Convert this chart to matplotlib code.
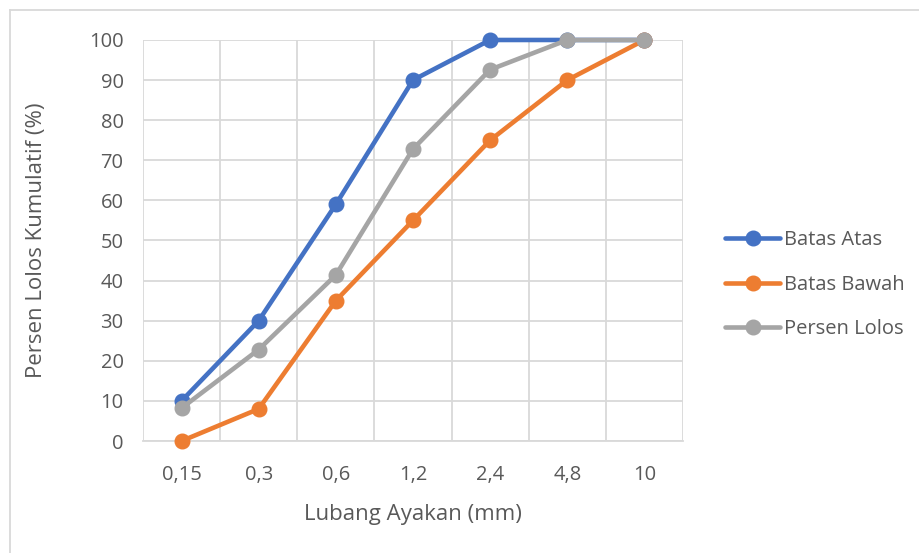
import matplotlib.pyplot as plt
from matplotlib.lines import Line2D
from matplotlib.ticker import MultipleLocator

# data
sieve_sizes = ["0,15", "0,3", "0,6", "1,2", "2,4", "4,8", "10"]
batas_atas = [10, 30, 59, 90, 100, 100, 100]
batas_bawah = [0, 8, 35, 55, 75, 90, 100]
persen_lolos = [8.2, 22.8, 41.4, 72.8, 92.6, 100, 100]

plt.rcParams['font.family'] = ['Open Sans', 'DejaVu Sans']
text_color = "#595959"
grid_color = "#d9d9d9"

fig = plt.figure(figsize=(9.2, 5.53), dpi=100)
ax = fig.add_axes([0.1554, 0.2025, 0.587, 0.7252])

x = range(len(sieve_sizes))
series = [
    ("Batas Atas", batas_atas, "#4472c4"),
    ("Batas Bawah", batas_bawah, "#ed7d31"),
    ("Persen Lolos", persen_lolos, "#a5a5a5"),
]
for name, values, color in series:
    ax.plot(x, values, color=color, lw=3.3, marker="o", markersize=10.5,
            label=name, solid_capstyle="round", clip_on=False, zorder=3)

ax.set_xlim(-0.5, len(sieve_sizes) - 0.5)
ax.set_ylim(0, 100)
ax.yaxis.set_major_locator(MultipleLocator(10))
ax.set_xticks(list(x))
ax.set_xticklabels(sieve_sizes)

# category boundary gridlines, Excel style
for b in range(len(sieve_sizes) + 1):
    ax.axvline(b - 0.5, color=grid_color, lw=1.3, zorder=0)
ax.grid(axis="y", color=grid_color, lw=1.3, zorder=0)
ax.set_axisbelow(True)

for side in ["top", "right", "left"]:
    ax.spines[side].set_visible(False)
ax.spines["bottom"].set_color(grid_color)
ax.spines["bottom"].set_linewidth(1.3)

ax.tick_params(axis="both", length=0, labelsize=14.5, colors=text_color)
ax.tick_params(axis="x", pad=17)
ax.tick_params(axis="y", pad=14)

ax.set_xlabel("Lubang Ayakan (mm)", fontsize=16, color=text_color, labelpad=14)
ax.set_ylabel("Persen Lolos Kumulatif (%)", fontsize=16, color=text_color, labelpad=30)

leg = ax.legend(loc="center left", bbox_to_anchor=(1.045, 0.39), frameon=False,
                fontsize=14.5, labelspacing=1.2, handlelength=2.7,
                handletextpad=0.2, labelcolor=text_color)

# chart border (cut off on the right and bottom edges)
fig.add_artist(Line2D([10 / 920, 1.0], [1 - 10 / 553] * 2,
                      transform=fig.transFigure, color=grid_color, lw=1.3))
fig.add_artist(Line2D([10 / 920] * 2, [0.0, 1 - 10 / 553],
                      transform=fig.transFigure, color=grid_color, lw=1.3))

plt.savefig("out.png", dpi=100)
